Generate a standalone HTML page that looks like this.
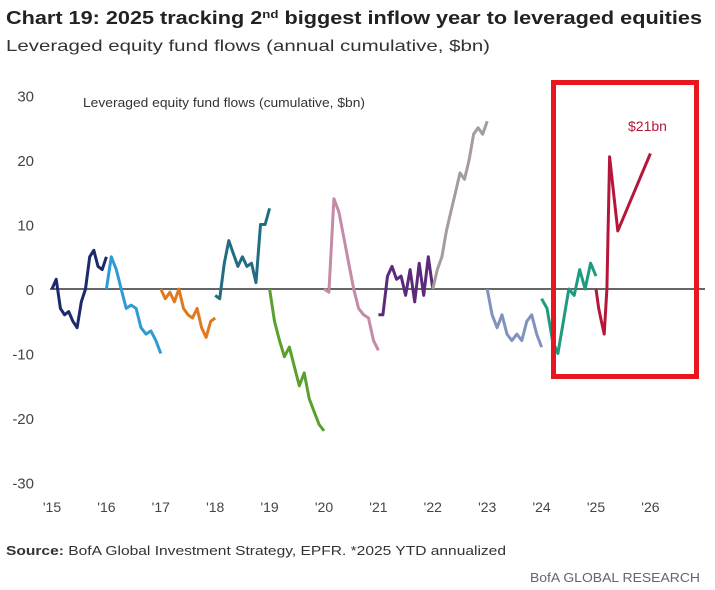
<!DOCTYPE html>
<html><head><meta charset="utf-8"><style>
body{margin:0;background:#fff;width:715px;height:590px;overflow:hidden;font-family:"Liberation Sans",sans-serif}
svg{display:block}
</style></head><body>
<svg id="c" width="715" height="590">
<text x="6" y="24" font-size="18" font-weight="bold" fill="#222" textLength="696" lengthAdjust="spacingAndGlyphs">Chart 19: 2025 tracking 2<tspan font-size="11" dy="-6">nd</tspan><tspan dy="6"> biggest inflow year to leveraged equities</tspan></text>
<text x="6" y="51" font-size="16" fill="#333" textLength="484" lengthAdjust="spacingAndGlyphs">Leveraged equity fund flows (annual cumulative, $bn)</text>
<text x="83" y="107" font-size="13" fill="#333" textLength="282" lengthAdjust="spacingAndGlyphs">Leveraged equity fund flows (cumulative, $bn)</text>
<g id="yax"></g><g id="xax"></g><g id="series"></g>
<text x="628" y="131" font-size="14" fill="#b5173a">$21bn</text>
<rect x="553.5" y="82.5" width="143" height="294" fill="none" stroke="#e8161e" stroke-width="5"/>
<text x="6" y="555" font-size="13" fill="#333" textLength="500" lengthAdjust="spacingAndGlyphs"><tspan font-weight="bold">Source:</tspan> BofA Global Investment Strategy, EPFR. *2025 YTD annualized</text>
<text x="700" y="582" font-size="13" fill="#666" text-anchor="end" textLength="170" lengthAdjust="spacingAndGlyphs">BofA GLOBAL RESEARCH</text>
</svg>
<script>
const yTicks=[30,20,10,0,-10,-20,-30];
const xLabels=["'15","'16","'17","'18","'19","'20","'21","'22","'23","'24","'25","'26"];
const years=[2015,2016,2017,2018,2019,2020,2021,2022,2023,2024,2025];
const colors=["#1a2a6c","#2e9bd6","#e07a20","#1f6e82","#5aa02c","#c48aa6","#5b2a7a","#a59c9c","#8093bf","#1e9c80","#b5173a"];
const v2015=[0,1.5,-3,-4,-3.5,-5,-6,-2,0,5,6,3.5,3,5];
const v2016=[0,5,3,0,-3,-2.5,-3,-6,-7,-6.5,-8,-10];
const v2017=[0,-1.5,-0.5,-2,0,-3,-4,-4.5,-3,-6,-7.5,-5,-4.5];
const v2018=[-1,-1.5,4,7.5,5.5,3.5,5,3.5,4,1,10,10,12.5];
const v2019=[0,-5,-8,-10.5,-9,-12,-15,-13,-17,-19,-21,-22];
const v2020=[0,-0.5,14,12,8,4,0,-3,-4,-4.5,-8,-9.5];
const v2021=[-4,-4,2,3.5,1.5,2,-1,3,-2,4,-1,5,0];
const v2022=[0,3,5,9,12,15,18,17,20,24,25,24,26];
const v2023=[0,-4,-6,-4,-7,-8,-7,-8,-5,-4,-7,-9];
const v2024=[-1.5,-3,-8,-10,-5,0,-1,3,0,4,2];
const v2025t=[0,0.05,0.1,0.15,0.2,0.25,0.4,1];
const v2025=[0,-3,-5,-7,0,20.5,9,21];
const seriesVals=[v2015,v2016,v2017,v2018,v2019,v2020,v2021,v2022,v2023,v2024,v2025];
const NS="http://www.w3.org/2000/svg";
const x0=52,pxYear=54.4,y0=289,pxUnit=6.45;
const xs=t=>x0+(t-2015)*pxYear;
const ys=v=>y0-v*pxUnit;
function mk(tag,attrs,parent){const e=document.createElementNS(NS,tag);for(const k in attrs)e.setAttribute(k,attrs[k]);parent.appendChild(e);return e;}
const yax=document.getElementById('yax');
yTicks.forEach(t=>{const e=mk('text',{x:34,y:ys(t)+6,'font-size':15,fill:'#444','text-anchor':'end'},yax);e.textContent=t;

});
const xax=document.getElementById('xax');
xLabels.forEach((l,i)=>{const e=mk('text',{x:xs(2015+i),y:512,'font-size':14,fill:'#444','text-anchor':'middle'},xax);e.textContent=l;

});
const zl=mk('line',{x1:50,x2:705,y1:y0,y2:y0,stroke:'#666','stroke-width':2},xax);


const sg=document.getElementById('series');
seriesVals.forEach((vals,si)=>{
  const yr=years[si];
  const pts=vals.map((v,i)=>{const f=(yr===2025)?v2025t[i]:i/(vals.length-1);return xs(yr+f).toFixed(1)+','+ys(v).toFixed(1);}).join(' ');
  const p=mk('polyline',{points:pts,fill:'none',stroke:colors[si],'stroke-width':3,'stroke-linejoin':'round'},sg);
  
  
});
</script>
</body></html>
